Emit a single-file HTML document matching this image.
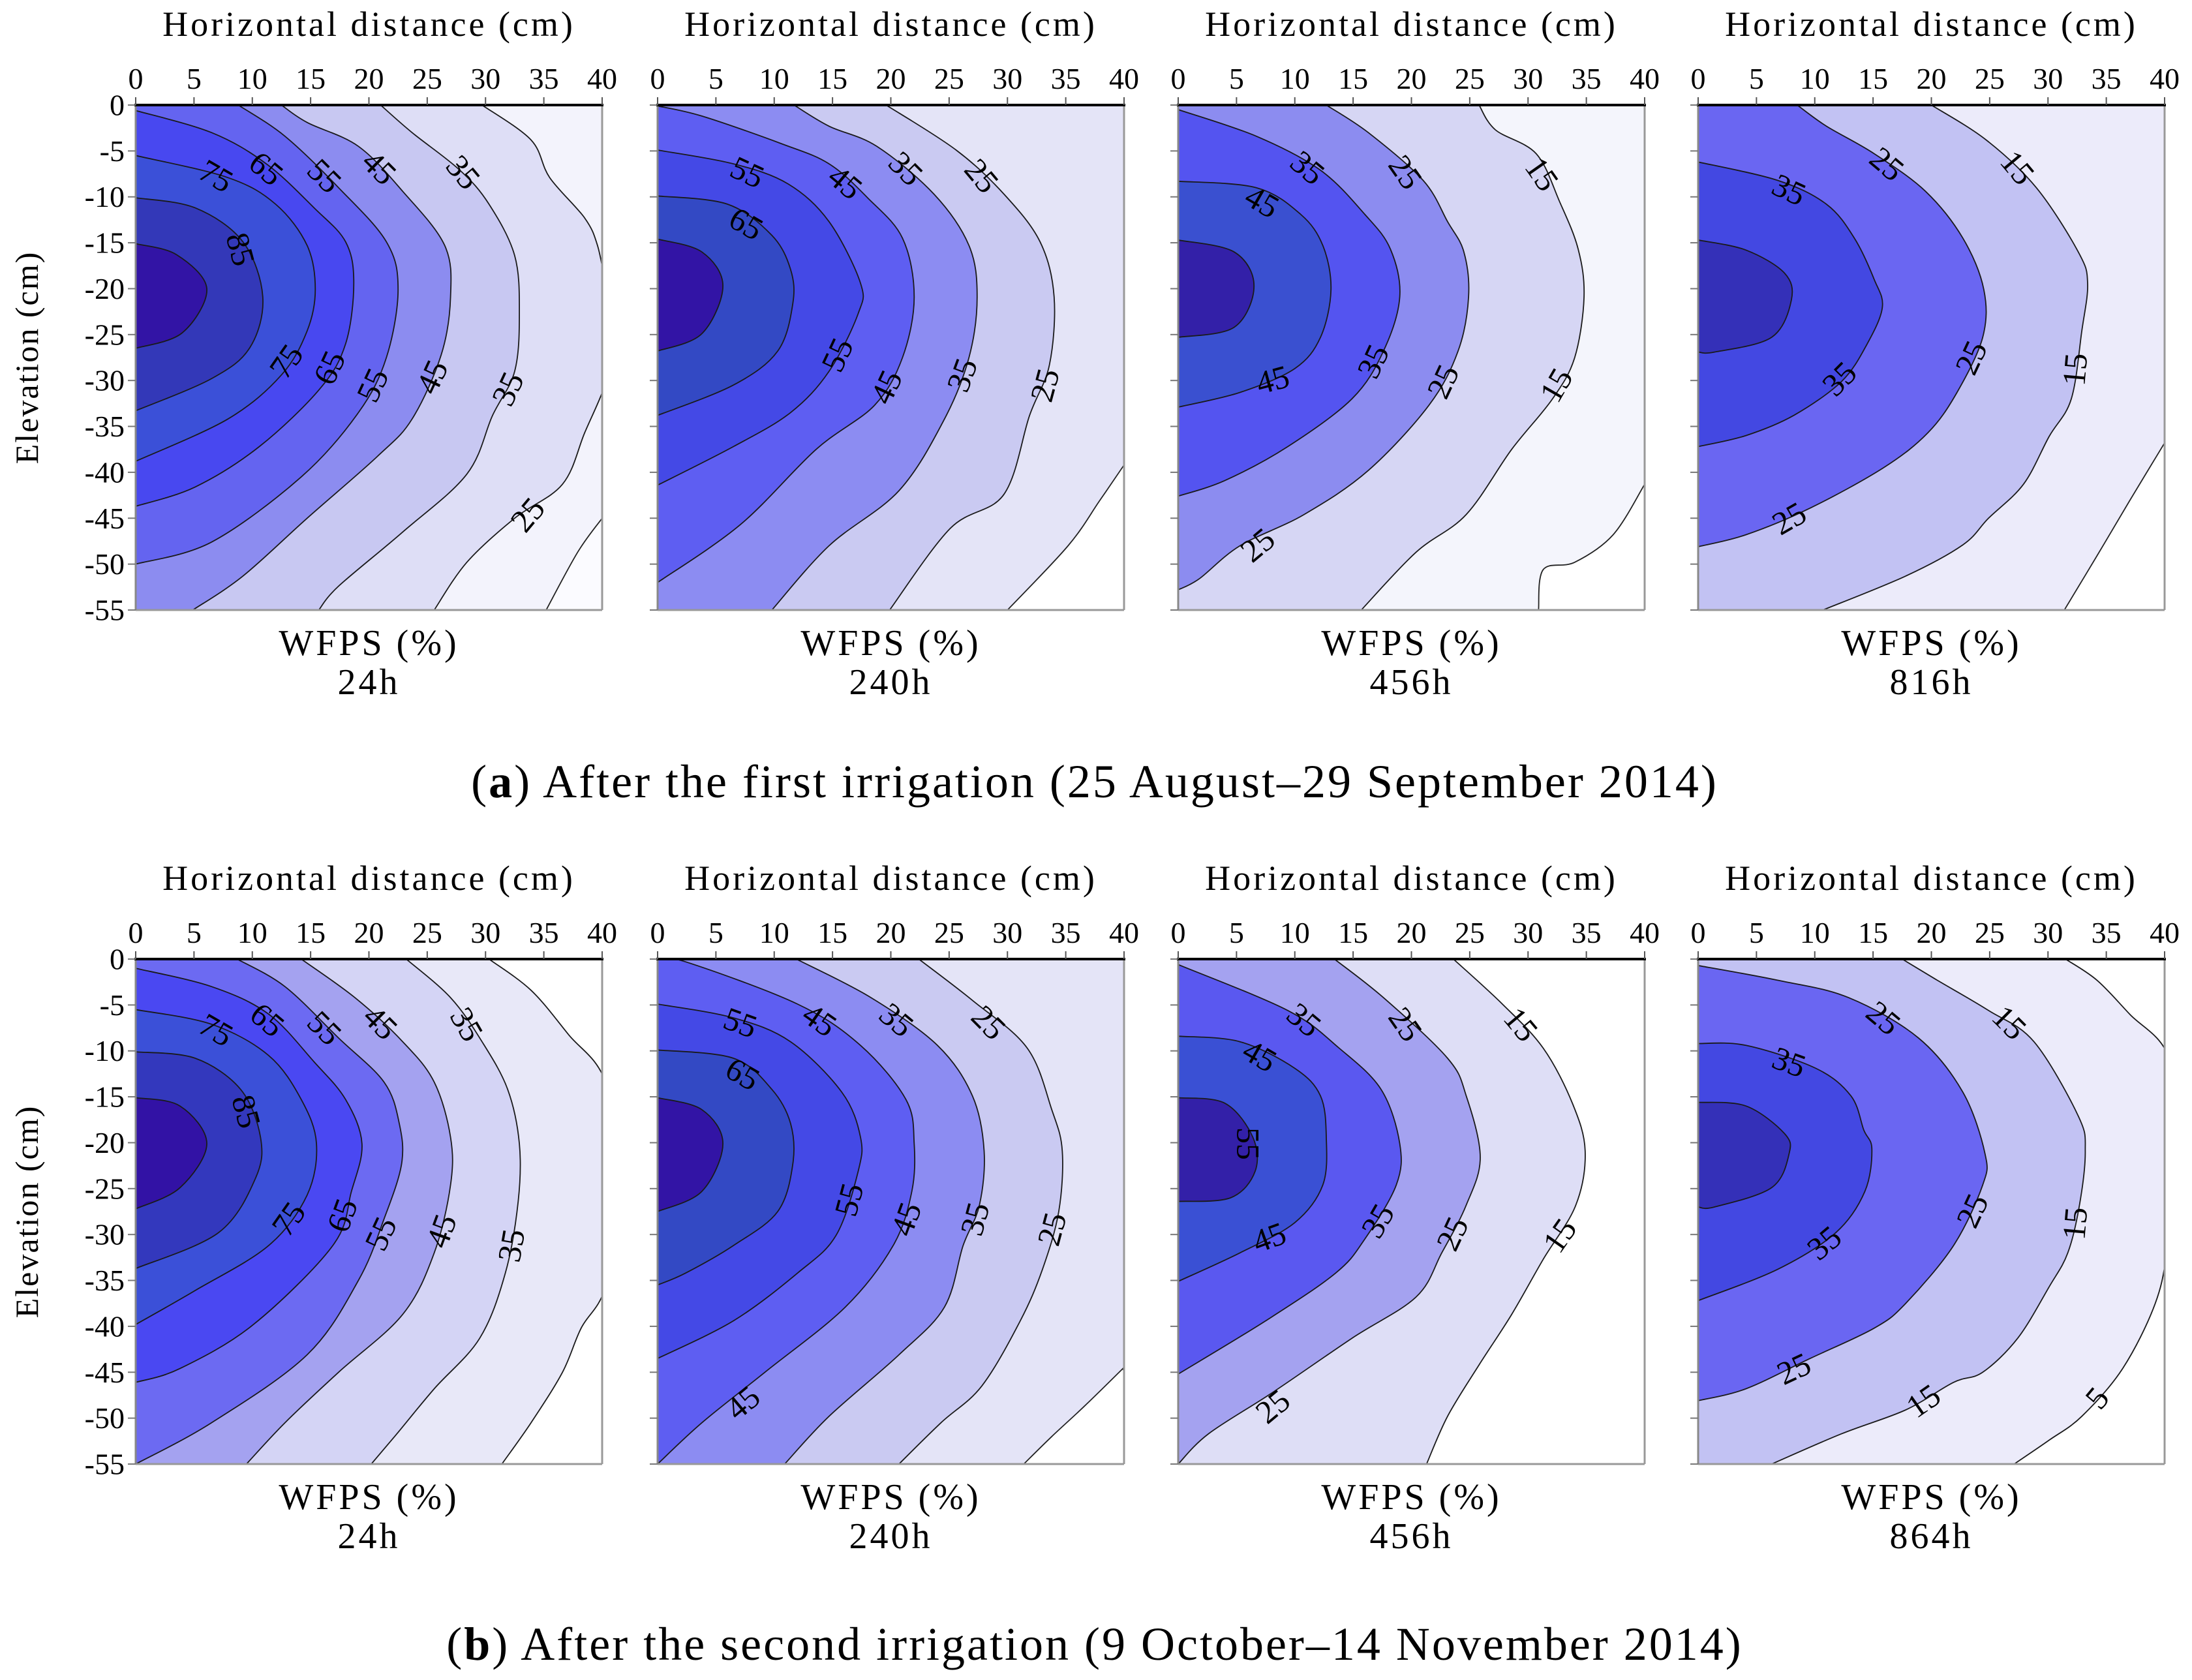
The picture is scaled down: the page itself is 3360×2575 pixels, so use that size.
<!DOCTYPE html>
<html><head><meta charset="utf-8"><style>
body{margin:0;background:#fff}
svg{display:block;font-family:"Liberation Serif",serif}
text{font-family:"Liberation Serif",serif}
</style></head><body>
<svg id="fig" width="3360" height="2575" viewBox="0 0 3360 2575" xmlns="http://www.w3.org/2000/svg" font-family="Liberation Serif, serif">
<rect width="3360" height="2575" fill="#fff"/>
<text x="1678" y="1222" font-size="72" letter-spacing="3" text-anchor="middle" font-family="Liberation Serif, serif">(<tspan font-weight="bold">a</tspan>) After the first irrigation (25 August–29 September 2014)</text>
<text x="1678" y="2544" font-size="72" letter-spacing="3" text-anchor="middle" font-family="Liberation Serif, serif">(<tspan font-weight="bold">b</tspan>) After the second irrigation (9 October–14 November 2014)</text>
</svg>
<script>
const xTicks=[0,5,10,15,20,25,30,35,40];
const yTicks=[0,-5,-10,-15,-20,-25,-30,-35,-40,-45,-50,-55];
const timeLabels=["24h","240h","456h","816h","24h","240h","456h","864h"];

// ---- A1 (24h, first irrigation)
const A1_lines=[
[[29.7,0],[33.9,-3.8],[35.5,-7.9],[38.5,-12.3],[39.6,-15.3],[40.3,-19.7],[41,-25],[40.3,-30.2],[38.5,-35.7],[36.6,-41.3],[32.5,-45],[28.4,-49.8],[25.6,-55]],
[[21,0],[23.7,-3],[27.8,-7.1],[30.3,-10.8],[32.5,-16.4],[32.9,-22.7],[32.5,-29],[30.6,-33.8],[28.4,-40.2],[22.9,-46.5],[17.4,-52.4],[15.7,-55]],
[[12.5,0],[14.7,-1.9],[19.1,-4.5],[22.9,-9.4],[26.5,-15.3],[27,-20.9],[26.2,-27.2],[23.7,-34.2],[20.7,-38.3],[14.7,-45],[9.2,-51.3],[4.9,-55]],
[[8.8,0],[12.8,-3.4],[17.4,-9],[21.5,-14.9],[22.5,-20.1],[21.5,-27.5],[19.1,-33.5],[14.2,-40.5],[6.5,-47.6],[0,-50]],
[[0,-0.6],[6.5,-3],[11.2,-6.4],[15.3,-11.2],[18,-14.9],[18.7,-19.4],[18,-26],[15.8,-30.9],[10.6,-37.2],[5.1,-41.6],[0,-43.7]],
[[0,-5.5],[7.9,-7.9],[12,-10.8],[14.7,-15.3],[15.4,-20.1],[14.7,-24.6],[12.5,-29.4],[7.9,-34.2],[0,-38.8]],
[[0,-10.1],[5.1,-11.2],[9.2,-14.9],[10.9,-20.9],[9.8,-26.4],[6.5,-29.8],[0,-33.3]],
[[0,-15.1],[3.5,-16.3],[6.1,-20],[4,-24.8],[0,-26.5]]];
const A1_corner=[[40,-45],[37.9,-48.7],[35.2,-55]];
const A1_fills=["#f3f3fc","#dedef6","#c8c8f2","#8c8cf0","#6464f0","#4848f0","#3b50d8","#3338b8","#3214a5"];
const A1_cornerFill="#fbfbff";
const A1_labels=[["75",6.9,-7.7,30],["65",11.2,-6.9,40],["55",16.2,-7.7,45],["45",20.9,-6.8,45],["35",28.1,-7.3,50],["85",9,-15.7,75],["75",12.9,-27.9,-55],["65",16.6,-28.6,-65],["55",20.3,-30.5,-65],["45",25.4,-29.6,-65],["35",31.9,-30.9,-65],["25",33.6,-44.6,-50]];

// ---- A2 (240h)
const A2_lines=[
[[19.6,0],[25.6,-4.9],[29.7,-9.7],[32.8,-14.9],[34,-20.9],[33.6,-28.3],[31.9,-33.8],[29.7,-42.4],[25.1,-46.1],[19.9,-55]],
[[11.7,0],[14.7,-2.3],[18.8,-4.5],[23.7,-9.7],[26.7,-15.3],[27.4,-20.9],[26.7,-27.5],[24.6,-34.2],[20.7,-42],[14.7,-48],[9.8,-55]],
[[0,-0.1],[3.8,-1.2],[10.6,-4.2],[14.7,-6.4],[18,-10.1],[21,-14.5],[22,-20.9],[21,-27.5],[18.6,-32.7],[13.6,-37.5],[7.1,-45.7],[0,-52]],
[[0,-4.9],[6.5,-6.4],[11.2,-8.6],[14.7,-12.7],[17.4,-19.4],[17.2,-22.7],[14.7,-29],[11.4,-33.5],[6.5,-37.2],[0,-41.4]],
[[0,-9.9],[6,-10.8],[9.8,-14.2],[11.4,-17.9],[11.6,-21.6],[10.3,-26.8],[6.5,-30.5],[0,-33.8]],
[[0,-14.6],[3.8,-16],[5.6,-19.7],[3.8,-24.9],[0,-26.8]]];
const A2_corner=[[40,-39.2],[37.9,-43.1],[35.2,-48],[30,-55]];
const A2_fills=["#e4e4f7","#cacaf2","#8c8cf2","#5e5ef2","#4449e6","#3349c4","#3214a5"];
const A2_cornerFill="#ffffff";
const A2_labels=[["55",7.7,-7.3,25],["45",16.1,-8.4,40],["35",21.3,-6.9,45],["25",27.8,-7.7,50],["65",7.6,-12.9,30],["55",15.4,-27.2,-65],["45",19.6,-30.7,-65],["35",26.1,-29.4,-70],["25",33.2,-30.5,-75]];

// ---- A3 (456h)
const A3_lines=[
[[25.8,0],[27.2,-2.7],[30.7,-5.3],[32.7,-10.5],[34.3,-15.7],[34.8,-20.9],[34,-27.5],[32.1,-32],[28.6,-37.5],[24.7,-44.6],[20.4,-48.7],[15.7,-55]],
[[12.7,0],[16.3,-3],[21,-8.2],[23.1,-12.7],[24.5,-16],[24.9,-20.9],[24,-26.8],[21.5,-32.7],[16.3,-39.8],[10.8,-44.6],[5.3,-48],[1.8,-51.6],[0,-52.8]],
[[0,-0.5],[6.7,-3.4],[12.2,-7.1],[16,-11.9],[18.2,-15.7],[19,-20.9],[17.6,-26.8],[14.9,-32],[9.4,-37.2],[4,-40.9],[0,-42.6]],
[[0,-8.3],[6.7,-9],[10.5,-11.9],[12.4,-15.3],[13.1,-20.1],[12.2,-25.3],[10,-28.7],[5.3,-31.3],[0,-32.9]],
[[0,-14.7],[4.8,-16],[6.5,-19.7],[4.8,-24.2],[0,-25.3]]];
const A3_corner=[[40,-41.3],[37.3,-46.8],[34,-49.8],[31.3,-50.6],[30.9,-55]];
const A3_fills=["#f4f5fc","#d6d6f4","#8c8cf0","#5454f0","#3a50d0","#3320a8"];
const A3_cornerFill="#ffffff";
const A3_labels=[["35",11.1,-6.8,40],["25",19.5,-7.3,55],["15",31.2,-7.5,55],["45",7.2,-10.5,30],["35",16.7,-27.9,-65],["25",22.7,-30.1,-65],["45",8.1,-29.9,-15],["15",32.4,-30.5,-60],["25",6.8,-47.9,-40]];

// ---- A4 (816h)
const A4_lines=[
[[20,0],[24.7,-3.8],[29,-9],[32.6,-16],[33.4,-19.4],[32.9,-24.6],[32,-32],[30.1,-36.1],[27.9,-41.3],[24.9,-45],[22.7,-47.9],[17.8,-51.3],[10.7,-55]],
[[8.5,0],[11,-2.3],[15.1,-5.3],[19.5,-9.4],[22.7,-14.5],[24.5,-20.1],[24.4,-25.3],[22.2,-31.3],[19.7,-35.7],[15.9,-39.5],[9.6,-43.9],[4.1,-46.8],[0,-48.1]],
[[0,-6.2],[6.8,-8.2],[11,-10.8],[13.4,-14.5],[15.1,-19],[15.8,-22],[14.5,-26],[12.3,-30.1],[8.2,-33.8],[4.1,-36],[0,-37.2]],
[[0,-14.7],[4.1,-15.8],[7.4,-18.3],[8,-21.2],[6.3,-25.3],[1.4,-26.9],[0,-26.9]]];
const A4_corner=[[40,-36.8],[37,-43.1],[34.2,-49.1],[31.4,-55]];
const A4_fills=["#ecebfa","#c2c2f3","#6a66f2","#4348e2","#3430b8"];
const A4_cornerFill="#ffffff";
const A4_labels=[["25",16.2,-6.4,40],["15",27.4,-6.8,50],["35",7.8,-9.2,25],["35",12.1,-29.8,-45],["25",23.4,-27.5,-65],["15",32.3,-28.8,-85],["25",7.8,-45,-30]];

// ---- B1 (24h, second irrigation)
const B1_lines=[
[[30.3,0],[33.9,-3.4],[37.1,-8.2],[40.3,-13.4],[42,-25],[40.3,-35.7],[38.2,-40.2],[36.6,-45],[33.9,-50.5],[31.4,-55]],
[[23.2,0],[27,-4.2],[29.7,-9],[31.9,-14.2],[32.9,-20.1],[32.8,-26.4],[31.7,-34.2],[29.5,-41.3],[25.6,-46.8],[22.4,-51.7],[20.2,-55]],
[[14.2,0],[18.8,-4.2],[22.9,-9],[25.6,-13.4],[27,-19.4],[27,-24.6],[25.6,-32],[22.9,-38.7],[17.4,-45],[12.8,-50.5],[9.5,-55]],
[[8.7,0],[12.8,-3],[17.4,-8.6],[21.3,-13.4],[22.6,-17.9],[22.8,-22.3],[21.3,-28.3],[19.1,-35],[14.7,-43.1],[6.5,-50.5],[0,-55]],
[[0,-1],[6.5,-3],[11.4,-6],[15.3,-11.2],[18,-15.3],[19.4,-20.1],[18.5,-25.3],[16.9,-31.2],[10.1,-39.8],[3.8,-44.6],[0,-46.1]],
[[0,-5.5],[6.5,-7.1],[11.4,-10.5],[14.2,-15.3],[15.5,-20.1],[14.7,-25.7],[11.4,-31.2],[5.1,-36.1],[0,-39.8]],
[[0,-10.1],[5.1,-10.8],[9,-14.2],[10.7,-19.4],[10.3,-23.8],[7.1,-29.8],[0,-33.7]],
[[0,-15.1],[3.8,-16],[6.1,-20.1],[3.8,-24.9],[0,-27.2]]];
const B1_corner=[];
const B1_fills=["#ffffff","#e8e8f8","#d4d4f5","#a4a2f0","#6c6af2","#4a48f2","#3b50d8","#3338bd","#3212a5"];
const B1_cornerFill="#ffffff";
const B1_labels=[["75",6.9,-7.7,30],["65",11.3,-6.6,40],["55",16.2,-7.5,45],["45",21,-6.9,45],["35",28.4,-7.1,60],["85",9.5,-16.6,75],["75",13.1,-28.3,-55],["65",17.7,-27.9,-70],["55",21,-29.9,-65],["45",26.2,-29.6,-70],["35",32.2,-31.2,-80]];

// ---- B2 (240h)
const B2_lines=[
[[22.4,0],[27,-4.5],[31.7,-9.7],[33.8,-16.4],[34.7,-20.9],[34.4,-27.5],[33,-33.8],[31.1,-39.4],[27.8,-46.5],[24.3,-50.5],[20.7,-55]],
[[11.9,0],[18.3,-4.2],[24,-9.4],[27,-14.9],[28,-20.9],[27.6,-26.8],[26.2,-31.2],[24.6,-37.9],[20.7,-43.1],[14.7,-49.8],[10.9,-55]],
[[0,0],[2.4,-0.3],[12,-4.9],[17.4,-9.4],[21.3,-15.3],[22,-20.1],[21.8,-25.3],[20.2,-31.2],[16.1,-37.9],[9.2,-45],[3.8,-50.5],[0,-55]],
[[0,-4.9],[6.5,-6.4],[11.4,-9],[15.8,-14.5],[17.4,-19.4],[17.2,-23.1],[15.3,-30.1],[12,-34.2],[6.5,-39.4],[0,-43.5]],
[[0,-9.9],[6.5,-10.8],[9.8,-14.2],[11.4,-17.9],[11.6,-22.3],[10.3,-27.5],[6.5,-31.2],[2.4,-34.2],[0,-35.5]],
[[0,-15.1],[3.8,-16.4],[5.6,-20.1],[3.8,-25.3],[0,-27.5]]];
const B2_corner=[[39.9,-44.6],[36.6,-48.7],[33.8,-52],[31.4,-55]];
const B2_fills=["#e4e4f7","#cacaf2","#8c8cf2","#5e5ef2","#4449e6","#3349c4","#3214a5"];
const B2_cornerFill="#ffffff";
const B2_labels=[["55",7.1,-6.9,20],["45",13.9,-6.6,35],["35",20.5,-6.6,40],["25",28.4,-6.9,45],["65",7.3,-12.5,30],["55",16.4,-26.2,-75],["45",21.3,-28.3,-70],["35",27.2,-28.3,-75],["25",33.8,-29.4,-75],["45",7.3,-48.3,-40]];

// ---- B3 (456h)
const B3_lines=[
[[23.6,0],[27.8,-4.9],[31.3,-9.7],[33.8,-15.7],[34.9,-20.9],[34.1,-26.8],[31.3,-32.7],[28.6,-38.7],[25.8,-44.2],[23.1,-49.8],[21.3,-55]],
[[13.4,0],[17.6,-4.2],[23.1,-10.8],[24.7,-14.9],[25.9,-21.6],[24.7,-26.8],[22.6,-32],[20.4,-36.8],[14.9,-41.3],[8.1,-47.2],[2.6,-51.7],[0,-55]],
[[0,-0.6],[9.4,-5.6],[13.8,-9.7],[17.4,-14.2],[19,-20.1],[18.7,-24.6],[16,-30.5],[13.5,-34.2],[7.5,-39.4],[0,-45.2]],
[[0,-8.4],[5.3,-9],[10,-11.9],[12.2,-14.9],[12.7,-19.4],[12.4,-24.6],[10,-28.7],[5.3,-32],[0,-35.1]],
[[0,-15.1],[4,-15.7],[6.4,-19.4],[6.6,-23.1],[4.5,-26],[0,-26.4]]];
const B3_corner=[];
const B3_fills=["#ffffff","#dedef6","#a4a2f0","#5a58f0","#3a50d4","#3320a8"];
const B3_cornerFill="#ffffff";
const B3_labels=[["35",10.8,-6.6,40],["25",19.5,-7.1,55],["15",29.4,-7.1,50],["45",7,-10.5,30],["55",6,-20.1,90],["35",17.1,-28.5,-60],["25",23.5,-29.9,-65],["45",7.8,-30.3,-20],["15",32.7,-30.1,-55],["25",8.1,-48.7,-40]];

// ---- B4 (864h)
const B4_lines=[
[[31.5,0],[34.2,-2.3],[37,-6],[40.3,-10.5],[41.5,-20],[40.3,-31.2],[39.2,-37.5],[36.4,-44.6],[32.9,-49.8],[30.1,-52.4],[27.1,-55]],
[[17.5,0],[20.5,-2.3],[24.9,-5.6],[28.8,-9],[32.6,-17.1],[33.2,-20.9],[32.7,-26.8],[31.7,-32],[30.1,-35.7],[27.4,-41.3],[24.4,-45],[21.9,-46.1],[17.8,-49.1],[12.3,-51.7],[6.3,-55]],
[[0,-0.7],[6.8,-2.3],[12.9,-4.2],[18.9,-8.6],[22.7,-14.5],[24.6,-21.2],[24.4,-24.6],[21.9,-31.2],[17.8,-37.5],[15.1,-40.2],[9.6,-43.5],[4.1,-46.8],[0,-48.1]],
[[0,-9.2],[4.1,-9.4],[10.1,-11.9],[13.1,-14.9],[14.2,-18.6],[14.9,-20.7],[14.3,-25.3],[11.8,-29.8],[6.8,-33.8],[0,-37.2]],
[[0,-15.6],[4.1,-16],[7.4,-19],[7.8,-21.2],[6.3,-24.9],[1.4,-27],[0,-27]]];
const B4_corner=[];
const B4_fills=["#ffffff","#ecebfa","#c2c2f3","#6a66f2","#4348e2","#3430b8"];
const B4_cornerFill="#ffffff";
const B4_labels=[["25",15.9,-6.4,40],["15",26.7,-6.9,45],["35",7.8,-11.2,20],["35",10.8,-30.9,-40],["25",23.5,-27.4,-65],["15",32.3,-28.8,-85],["25",8.2,-44.6,-25],["15",19.3,-48.1,-35],["5",34.2,-47.8,-50]];

const panelData=[
 [A1_lines,A1_corner,A1_fills,A1_cornerFill,A1_labels],
 [A2_lines,A2_corner,A2_fills,A2_cornerFill,A2_labels],
 [A3_lines,A3_corner,A3_fills,A3_cornerFill,A3_labels],
 [A4_lines,A4_corner,A4_fills,A4_cornerFill,A4_labels],
 [B1_lines,B1_corner,B1_fills,B1_cornerFill,B1_labels],
 [B2_lines,B2_corner,B2_fills,B2_cornerFill,B2_labels],
 [B3_lines,B3_corner,B3_fills,B3_cornerFill,B3_labels],
 [B4_lines,B4_corner,B4_fills,B4_cornerFill,B4_labels]];

const NS="http://www.w3.org/2000/svg";
const FF="Liberation Serif, serif";
const svg=document.getElementById('fig');
const lefts=[208,1008,1806,2603], tops=[161,1470], PW=715, PH=774;
function mk(tag,attrs,parent){const e=document.createElementNS(NS,tag);for(const k in attrs)e.setAttribute(k,attrs[k]);if(tag==='text')e.setAttribute('font-family',FF);(parent||svg).appendChild(e);return e;}
function smooth(pts){
  let d="M"+pts[0][0].toFixed(1)+","+pts[0][1].toFixed(1);
  for(let i=0;i<pts.length-1;i++){
    const p0=pts[i-1]||pts[i],p1=pts[i],p2=pts[i+1],p3=pts[i+2]||p2;
    const c1=[p1[0]+(p2[0]-p0[0])/6,p1[1]+(p2[1]-p0[1])/6];
    const c2=[p2[0]-(p3[0]-p1[0])/6,p2[1]-(p3[1]-p1[1])/6];
    d+="C"+c1.map(v=>v.toFixed(1))+" "+c2.map(v=>v.toFixed(1))+" "+p2.map(v=>v.toFixed(1));
  }
  return d;
}
panelData.forEach((pd,i)=>{
  const [lines,corner,fills,cornerFill,labels]=pd;
  const L=lefts[i%4], T=tops[Math.floor(i/4)];
  const sx=x=>L+x/40*PW, sy=y=>T+(-y)/55*PH;
  const g=mk('g',{});
  
  
  const cp=mk('clipPath',{id:'clip'+i},g);
  mk('rect',{x:L,y:T,width:PW,height:PH},cp);
  const plot=mk('g',{'clip-path':'url(#clip'+i+')'},g);
  const bg=mk('rect',{x:L,y:T,width:PW,height:PH,fill:fills[0]},plot);
  
  
  if(corner.length){
    const cpts=corner.map(p=>[sx(p[0]),sy(p[1])]);
    const cf=mk('path',{d:smooth(cpts)+"L"+sx(45)+","+sy(-60)+"Z",fill:cornerFill,stroke:'#222','stroke-width':1.8},plot);
    
    
  }
  lines.forEach((ln,j)=>{
    const pts=ln.map(p=>[sx(p[0]),sy(p[1])]);
    const last=ln[ln.length-1], first=ln[0];
    const d=smooth(pts)+"L"+sx(0)+","+sy(last[1])+"L"+sx(0)+","+sy(first[1])+"Z";
    const f=mk('path',{d:d,fill:fills[j+1],stroke:'none'},plot);
    
    
    const s=mk('path',{d:smooth(pts),fill:'none',stroke:'#1a1a1a','stroke-width':1.8},plot);
    
    
  });
  labels.forEach(lb=>{
    const t=mk('text',{x:sx(lb[1]),y:sy(lb[2]),'font-size':50,'text-anchor':'middle','dominant-baseline':'central',transform:`rotate(${lb[3]} ${sx(lb[1])} ${sy(lb[2])})`},plot);
    t.textContent=lb[0];
    
    
  });
  // frame
  mk('line',{x1:L,y1:T+PH,x2:L+PW,y2:T+PH,stroke:'#999','stroke-width':3},g);
  mk('line',{x1:L+PW,y1:T,x2:L+PW,y2:T+PH,stroke:'#999','stroke-width':3},g);
  mk('line',{x1:L,y1:T,x2:L,y2:T+PH,stroke:'#888','stroke-width':3},g);
  mk('line',{x1:L-2,y1:T,x2:L+PW+2,y2:T,stroke:'#000','stroke-width':4},g);
  xTicks.forEach(v=>{
    mk('line',{x1:sx(v),y1:T,x2:sx(v),y2:T-12,stroke:'#555','stroke-width':2},g);
    const t=mk('text',{x:sx(v),y:T-25,'font-size':46,'text-anchor':'middle'},g);
    t.textContent=v;
    
    
  });
  yTicks.forEach(v=>{
    mk('line',{x1:L,y1:sy(v),x2:L-12,y2:sy(v),stroke:'#777','stroke-width':2},g);
    if(i%4===0){
      const t=mk('text',{x:L-17,y:sy(v),'font-size':46,'text-anchor':'end','dominant-baseline':'central'},g);
      t.textContent=v;
      
      
    }
  });
  const xt=mk('text',{x:L+PW/2,y:T-106,'font-size':54,'letter-spacing':4,'text-anchor':'middle'},g);
  xt.textContent='Horizontal distance (cm)';
  
  
  const wt=mk('text',{x:L+PW/2,y:T+PH+69,'font-size':56,'letter-spacing':4,'text-anchor':'middle'},g);
  wt.textContent='WFPS (%)';
  
  
  const tt=mk('text',{x:L+PW/2,y:T+PH+129,'font-size':56,'letter-spacing':4,'text-anchor':'middle'},g);
  tt.textContent=timeLabels[i];
  
  
  if(i%4===0){
    const cy=T+PH*0.5;
    const yt=mk('text',{x:58,y:cy,'font-size':50,'letter-spacing':2,'text-anchor':'middle',transform:`rotate(-90 58 ${cy})`},g);
    yt.textContent='Elevation (cm)';
    
    
  }
});
</script>
</body></html>
